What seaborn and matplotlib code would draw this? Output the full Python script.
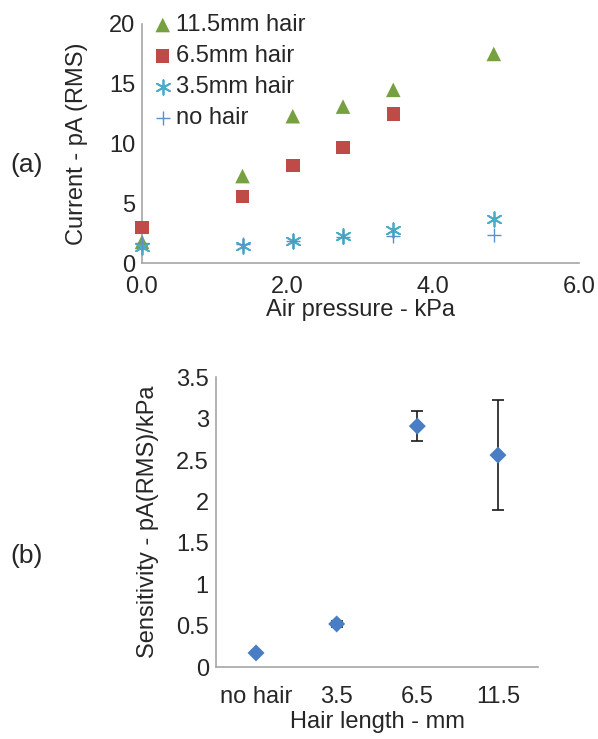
import matplotlib
matplotlib.use("Agg")
import matplotlib.pyplot as plt
import seaborn as sns
import pandas as pd
import numpy as np

sns.set_theme(style="white")
plt.rcParams['font.family'] = ['Liberation Sans', 'DejaVu Sans']

# ---- data (a) ----
pressure = [0.0, 1.38, 2.07, 2.76, 3.45, 4.83]
hair_11_5 = [1.8, 7.3, 12.3, 13.1, 14.5, 17.5]
hair_6_5 = [3.0, 5.6, 8.2, 9.7, 12.5]
hair_3_5 = [1.4, 1.45, 1.9, 2.3, 2.8, 3.7]
no_hair = [1.7, 1.6, 1.9, 2.2, 2.3, 2.4]

# ---- data (b) ----
hair_length = ["no hair", "3.5", "6.5", "11.5"]
sensitivity = [0.17, 0.52, 2.91, 2.56]
sens_err = [0.0, 0.04, 0.18, 0.66]

TXT = "#262626"
SPINE = "#A6A6A6"
FS = 17

fig = plt.figure(figsize=(5.98, 7.39), dpi=100)
ax1 = fig.add_axes([142/598, 1-263.5/739, (579-142)/598, (263.5-24)/739])
ax2 = fig.add_axes([215.7/598, 1-667/739, (538.3-215.7)/598, (667-377.3)/739])

series = [
    ("11.5mm hair", pressure, hair_11_5, "^", "#77A040", 110, None),
    ("6.5mm hair", pressure[:len(hair_6_5)], hair_6_5, "s", "#BE4B48", 95, None),
    ("3.5mm hair", pressure, hair_3_5, (6, 2, 0), "#4BACC6", 110, 1.3),
    ("no hair", pressure, no_hair, "+", "#5B8FD0", 110, 1.0),
]
for name, xs, ys, mk, col, sz, lw in series:
    df = pd.DataFrame({"x": xs, "y": ys})
    kw = dict(data=df, x="x", y="y", marker=mk, s=sz, ax=ax1, label=name, zorder=3,
              clip_on=False)
    if lw is None:
        kw.update(color=col, edgecolor="none")
    else:
        kw.update(color=col, linewidth=lw)
    sns.scatterplot(**kw)

ax1.set_xlim(0, 6)
ax1.set_ylim(0, 20)
ax1.set_xticks([0, 2, 4, 6])
ax1.set_xticklabels(["0.0", "2.0", "4.0", "6.0"])
ax1.set_yticks([0, 5, 10, 15, 20])
ax1.set_xlabel("Air pressure - kPa", fontsize=FS, color=TXT, labelpad=1)
ax1.set_ylabel("Current - pA (RMS)", fontsize=FS, color=TXT, labelpad=15)
leg = ax1.legend(loc="upper left", bbox_to_anchor=(-0.012, 1.10), frameon=False,
                 fontsize=FS, handletextpad=0.05, handlelength=1.0,
                 labelspacing=0.38, borderaxespad=0.2)
for t in leg.get_texts():
    t.set_color(TXT)

# ---- (b) ----
dfb = pd.DataFrame({"length": hair_length, "sens": sensitivity, "err": sens_err})
pos = np.arange(len(hair_length))
ax2.errorbar(pos, dfb["sens"], yerr=dfb["err"], fmt="none", ecolor="#1a1a1a",
             elinewidth=1.2, capsize=4, capthick=1.2, zorder=2)
sns.scatterplot(data=dfb, x="length", y="sens", marker="D", s=75, color="#4A7EC4",
                edgecolor="none", ax=ax2, zorder=3)
ax2.set_xlim(-0.5, 3.5)
ax2.set_ylim(0, 3.5)
ax2.set_yticks([0, 0.5, 1, 1.5, 2, 2.5, 3, 3.5])
ax2.set_yticklabels(["0", "0.5", "1", "1.5", "2", "2.5", "3", "3.5"])
ax2.set_xticks(np.arange(-0.5, 3.6, 1.0))
ax2.set_xticklabels([])
ax2.set_xticks(pos, minor=True)
ax2.set_xticklabels(hair_length, minor=True)
ax2.tick_params(axis="x", which="minor", length=0, pad=14, labelsize=FS, labelcolor=TXT)
ax2.set_xlabel("Hair length - mm", fontsize=FS, color=TXT, labelpad=2)
ax2.set_ylabel("Sensitivity - pA(RMS)/kPa", fontsize=FS, color=TXT, labelpad=12)

for ax in (ax1, ax2):
    sns.despine(ax=ax)
    for sp in ("left", "bottom"):
        ax.spines[sp].set_color(SPINE)
        ax.spines[sp].set_linewidth(1.2)
    ax.tick_params(axis="both", which="major", direction="out", length=5, width=1.2,
                   color=SPINE, labelsize=FS, labelcolor=TXT, pad=4)
    ax.tick_params(axis="y", which="major", length=4, pad=1)
    ax.grid(False)

fig.text(27/598, 1-165/739, "(a)", fontsize=FS+2, color=TXT, ha="center", va="center")
fig.text(27/598, 1-556/739, "(b)", fontsize=FS+2, color=TXT, ha="center", va="center")

fig.savefig("out.png", dpi=100, facecolor="white")
